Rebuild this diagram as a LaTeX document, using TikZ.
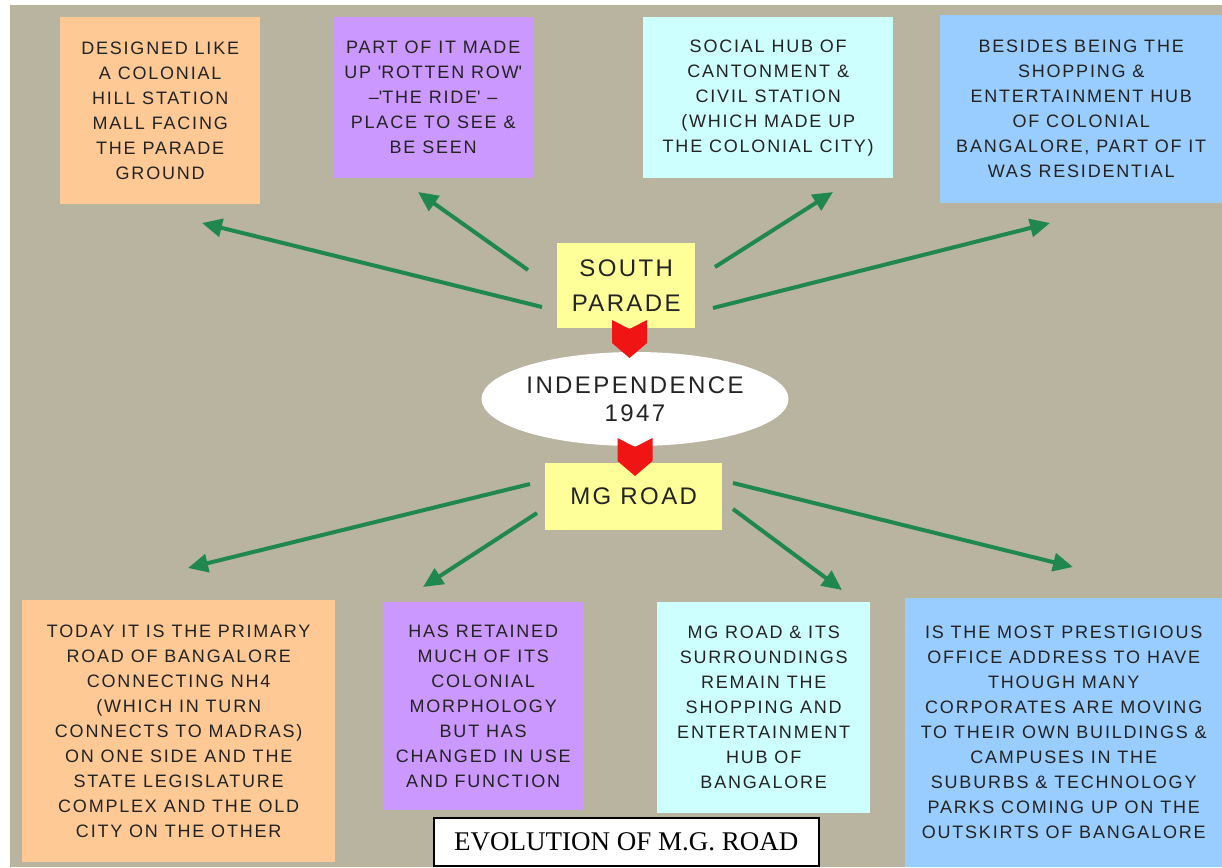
\documentclass[tikz,border=0pt]{standalone}
\usepackage{fontspec}
\setmainfont{Liberation Sans}
\newfontfamily\boxfont[LetterSpace=10]{Liberation Sans}
\newfontfamily\titlefont{Liberation Serif}
\usetikzlibrary{arrows.meta,shapes.geometric}
\definecolor{bgc}{RGB}{184,180,160}
\definecolor{peach}{RGB}{255,201,150}
\definecolor{lilac}{RGB}{202,152,255}
\definecolor{paleaqua}{RGB}{206,255,255}
\definecolor{skyb}{RGB}{153,204,255}
\definecolor{paley}{RGB}{255,255,153}
\definecolor{agreen}{RGB}{32,136,78}
\definecolor{txt}{RGB}{35,35,35}
\definecolor{chevred}{RGB}{240,20,20}
\tikzset{
  infobox/.style={anchor=north west, inner sep=0pt, align=center, text=txt,
    font={\boxfont\fontsize{18}{25}\selectfont}},
  hubbox/.style={fill=paley, anchor=north west, inner sep=0pt, align=center, text=txt,
    font={\boxfont\fontsize{24}{35}\selectfont}},
  garrow/.style={draw=agreen, line width=4pt, -{Triangle[length=20pt,width=18pt]}},
  pics/chev/.style={code={\fill[chevred] (-17.5,0) -- (0,9) -- (17.5,0) -- (17.5,23) -- (0,38) -- (-17.5,23) -- cycle;}}
}
\begin{document}
\begin{tikzpicture}[x=1pt,y=-1pt]
\useasboundingbox (0,0) rectangle (1222,867);
\fill[white] (0,0) rectangle (1222,867);
\fill[bgc] (10,5) rectangle (1222,867);

% top row
\node[infobox, fill=peach, minimum width=200pt, minimum height=187pt] (tl) at (60,17)
  {DESIGNED LIKE\\A COLONIAL\\HILL STATION\\MALL FACING\\THE PARADE\\GROUND};
\node[infobox, fill=lilac, minimum width=200pt, minimum height=161pt] (tp) at (333,17)
  {PART OF IT MADE\\UP \textquotesingle ROTTEN ROW\textquotesingle\\\textendash\textquotesingle THE RIDE\textquotesingle\ \textendash\\PLACE TO SEE \&\\BE SEEN};
\node[infobox, fill=paleaqua, minimum width=250pt, minimum height=161pt] (tc) at (643,17)
  {SOCIAL HUB OF\\CANTONMENT \&\\CIVIL STATION\\(WHICH MADE UP\\THE COLONIAL CITY)};
\node[infobox, fill=skyb, minimum width=282pt, minimum height=188pt] (tb) at (940,15)
  {BESIDES BEING THE\\SHOPPING \&\\ENTERTAINMENT HUB\\OF COLONIAL\\BANGALORE, PART OF IT\\WAS RESIDENTIAL};

% bottom row
\node[infobox, fill=peach, minimum width=313pt, minimum height=262pt] (bl) at (22,600)
  {TODAY IT IS THE PRIMARY\\ROAD OF BANGALORE\\CONNECTING NH4\\(WHICH IN TURN\\CONNECTS TO MADRAS)\\ON ONE SIDE AND THE\\STATE LEGISLATURE\\COMPLEX AND THE OLD\\CITY ON THE OTHER};
\node[infobox, fill=lilac, minimum width=200pt, minimum height=208pt] (bp) at (383,602)
  {HAS RETAINED\\MUCH OF ITS\\COLONIAL\\MORPHOLOGY\\BUT HAS\\CHANGED IN USE\\AND FUNCTION};
\node[infobox, fill=paleaqua, minimum width=213pt, minimum height=211pt] (bc) at (657,602)
  {MG ROAD \& ITS\\SURROUNDINGS\\REMAIN THE\\SHOPPING AND\\ENTERTAINMENT\\HUB OF\\BANGALORE};
\node[infobox, fill=skyb, minimum width=317pt, minimum height=269pt] (bb) at (905,598)
  {IS THE MOST PRESTIGIOUS\\OFFICE ADDRESS TO HAVE\\THOUGH MANY\\CORPORATES ARE MOVING\\TO THEIR OWN BUILDINGS \&\\CAMPUSES IN THE\\SUBURBS \& TECHNOLOGY\\PARKS COMING UP ON THE\\OUTSKIRTS OF BANGALORE};

% centre
\node[hubbox, minimum width=138pt, minimum height=85pt] (sp) at (557,243) {SOUTH\\PARADE};
\node[ellipse, fill=white, inner sep=0pt, minimum width=281pt, minimum height=94pt, align=center, text=txt,
  font={\boxfont\fontsize{24}{28}\selectfont}] (ind) at (635,399) {INDEPENDENCE\\1947};
\node[hubbox, minimum width=177pt, minimum height=67pt] (mg) at (545,463) {MG ROAD};

\coordinate (r1) at (629.5,320);
\coordinate (r2) at (635,438);
\pic at (r1) {chev};
\pic at (r2) {chev};

% green arrows
\coordinate (a1s) at (542,307); \coordinate (a1e) at (202,223);
\coordinate (a2s) at (528,270); \coordinate (a2e) at (418,192);
\coordinate (a3s) at (715,267); \coordinate (a3e) at (833,192);
\coordinate (a4s) at (713,308); \coordinate (a4e) at (1050,223);
\coordinate (a5s) at (530,484); \coordinate (a5e) at (188,568);
\coordinate (a6s) at (537,513); \coordinate (a6e) at (423,587);
\coordinate (a7s) at (733,509); \coordinate (a7e) at (842,590);
\coordinate (a8s) at (733,483); \coordinate (a8e) at (1073,567);
\foreach \i in {1,...,8} {\draw[garrow] (a\i s) -- (a\i e);}

% title
\node[draw=black, line width=1.5pt, fill=white, anchor=north west, minimum width=385pt, minimum height=48pt,
  inner sep=0pt, font={\titlefont\fontsize{27}{30}\selectfont}] (title) at (433,817) {EVOLUTION OF M.G. ROAD};
\end{tikzpicture}
\end{document}
